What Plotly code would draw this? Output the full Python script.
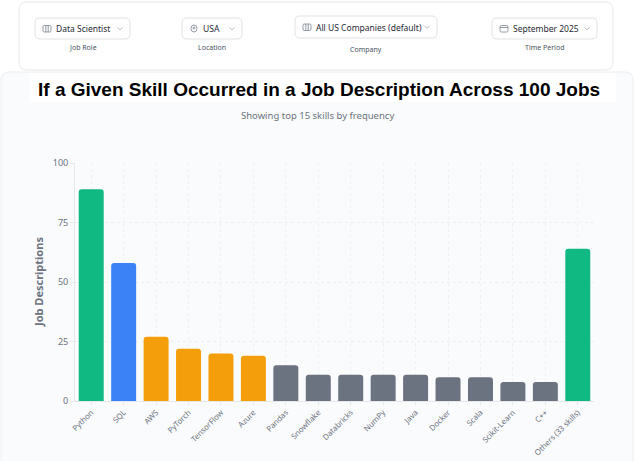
import plotly.graph_objects as go

# --- data ---
skills = ["Python", "SQL", "AWS", "PyTorch", "TensorFlow", "Azure", "Pandas",
          "Snowflake", "Databricks", "NumPy", "Java", "Docker", "Scala",
          "Scikit-Learn", "C++", "Others (33 skills)"]
counts = [89, 58, 27, 22, 20, 19, 15, 11, 11, 11, 11, 10, 10, 8, 8, 64]
groups = ["top", "blue", "orange", "orange", "orange", "orange", "gray",
          "gray", "gray", "gray", "gray", "gray", "gray", "gray", "gray", "top"]
y_ticks = [0, 25, 50, 75, 100]

filters = ["Data Scientist", "USA", "All US Companies (default)", "September 2025"]
filter_labels = ["Job Role", "Location", "Company", "Time Period"]
filter_icons = ["case", "pin", "case", "cal"]

title = "If a Given Skill Occurred in a Job Description Across 100 Jobs"
subtitle = "Showing top 15 skills by frequency"

palette = {"top": "#10b981", "blue": "#3b82f6", "orange": "#f59e0b", "gray": "#6b7280"}

W, H = 640, 461
L, R, T, B = 75, 46, 163, 60
PW = W - L - R
PH = H - T - B


def px(x):
    return (x - L) / PW


def py(y):
    return (H - B - y) / PH


def rrect(x0, y0, x1, y1, r):
    # rounded rectangle path in paper coords, from pixel box
    rx = r / PW
    ry = r / PH
    a, b, c, d = px(x0), px(x1), py(y0), py(y1)  # c top, d bottom
    return (f"M {a+rx},{c} L {b-rx},{c} Q {b},{c} {b},{c-ry} "
            f"L {b},{d+ry} Q {b},{d} {b-rx},{d} L {a+rx},{d} "
            f"Q {a},{d} {a},{d+ry} L {a},{c-ry} Q {a},{c} {a+rx},{c} Z")


def icon(kind, x, cy):
    ic = dict(color="#7b8390", width=0.8)
    out = []
    if kind == "pin":
        out.append(dict(type="circle", xref="paper", yref="paper",
                        x0=px(x + 1), x1=px(x + 7), y0=py(cy + 3.5), y1=py(cy - 3.5), line=ic))
        out.append(dict(type="circle", xref="paper", yref="paper",
                        x0=px(x + 3), x1=px(x + 5), y0=py(cy + 0.5), y1=py(cy - 1.5), line=ic))
    else:
        out.append(dict(type="path", xref="paper", yref="paper",
                        path=rrect(x, cy - 3, x + 8, cy + 3.5, 1.2), line=ic))
        if kind == "case":
            out.append(dict(type="line", xref="paper", yref="paper",
                            x0=px(x + 2.8), x1=px(x + 2.8), y0=py(cy - 3), y1=py(cy + 3.5), line=ic))
            out.append(dict(type="line", xref="paper", yref="paper",
                            x0=px(x + 5.2), x1=px(x + 5.2), y0=py(cy - 3), y1=py(cy + 3.5), line=ic))
        else:
            out.append(dict(type="line", xref="paper", yref="paper",
                            x0=px(x), x1=px(x + 8), y0=py(cy - 1), y1=py(cy - 1), line=ic))
    return out


fig = go.Figure(go.Bar(
    x=skills, y=counts,
    marker=dict(color=[palette[g] for g in groups], line=dict(width=0)),
    hovertemplate="%{x}: %{y}<extra></extra>",
))

shapes = []
ann = []

# chart card + white title band
shapes.append(dict(type="path", xref="paper", yref="paper",
                   path=rrect(1, 72, 633, 470, 8),
                   fillcolor="#fafbfc", line=dict(color="#eceef1", width=1), layer="below"))
shapes.append(dict(type="rect", xref="paper", yref="paper",
                   x0=px(30), x1=px(616), y0=py(73), y1=py(102),
                   fillcolor="#ffffff", line=dict(width=0), layer="below"))

# filter card
shapes.append(dict(type="path", xref="paper", yref="paper",
                   path=rrect(19, 2, 613, 70, 8),
                   fillcolor="#ffffff", line=dict(color="#e5e7eb", width=1), layer="below"))

boxes = [(35, 18, 130, 39), (182, 18, 242, 39), (295, 16, 437, 38), (492, 18, 597, 39)]
label_y = [48, 48, 50, 48]
for (x0, y0, x1, y1), txt, lab, ly, kind in zip(boxes, filters, filter_labels, label_y, filter_icons):
    shapes.append(dict(type="path", xref="paper", yref="paper",
                       path=rrect(x0, y0, x1, y1, 5),
                       fillcolor="#ffffff", line=dict(color="#dfe2e6", width=1), layer="below"))
    cy = (y0 + y1) / 2
    shapes.extend(icon(kind, x0 + 8, cy))
    # chevron
    cx = x1 - 10
    shapes.append(dict(type="path", xref="paper", yref="paper",
                       path=f"M {px(cx-2.5)},{py(cy-1.2)} L {px(cx)},{py(cy+1.3)} L {px(cx+2.5)},{py(cy-1.2)}",
                       line=dict(color="#a0a6ae", width=0.8)))
    ann.append(dict(x=px(x0 + 19), y=py(cy), xref="paper", yref="paper",
                    text=txt, showarrow=False, xanchor="left", yanchor="middle",
                    font=dict(family="Noto Sans", size=8.5, color="#1f2937")))
    ann.append(dict(x=px((x0 + x1) / 2), y=py(ly), xref="paper", yref="paper",
                    text=lab, showarrow=False, xanchor="center", yanchor="middle",
                    font=dict(family="Noto Sans", size=7, color="#4b5563")))

ann.append(dict(x=px(319), y=py(89), xref="paper", yref="paper", text=f"<b>{title}</b>",
                showarrow=False, xanchor="center", yanchor="middle",
                font=dict(family="Liberation Sans", size=19, color="#000000")))
ann.append(dict(x=px(317), y=py(115), xref="paper", yref="paper", text=subtitle,
                showarrow=False, xanchor="center", yanchor="middle",
                font=dict(family="Noto Sans", size=9.5, color="#6b7280")))
ann.append(dict(x=px(38), y=py(282), xref="paper", yref="paper", text="<b>Job Descriptions</b>",
                showarrow=False, xanchor="center", yanchor="middle", textangle=-90,
                font=dict(family="Noto Sans", size=11, color="#6b7280")))

fig.update_layout(
    width=W, height=H,
    margin=dict(l=L, r=R, t=T, b=B),
    paper_bgcolor="#ffffff",
    plot_bgcolor="rgba(0,0,0,0)",
    bargap=0.23,
    barcornerradius=3,
    showlegend=False,
    shapes=shapes,
    annotations=ann,
    font=dict(family="Noto Sans", color="#6b7280"),
)
fig.update_xaxes(
    tickangle=-45, tickfont=dict(size=7.8, color="#6b7280"), automargin=False,
    showgrid=True, gridcolor="#f0f1f3", griddash="dot",
    showline=True, linecolor="#e5e7eb", ticks="outside", ticklen=3, tickcolor="#e5e7eb",
    fixedrange=True,
)
fig.update_yaxes(
    range=[0, 100], tickvals=y_ticks, tickfont=dict(size=9, color="#6b7280"), automargin=False,
    showgrid=True, gridcolor="#eceef1", griddash="dot", zeroline=False,
    showline=True, linecolor="#e5e7eb", ticks="outside", ticklen=4, tickcolor="#e5e7eb",
    fixedrange=True,
)

fig.write_html("out.html", config={"displayModeBar": False},
               post_script="document.body.style.margin='0';")
